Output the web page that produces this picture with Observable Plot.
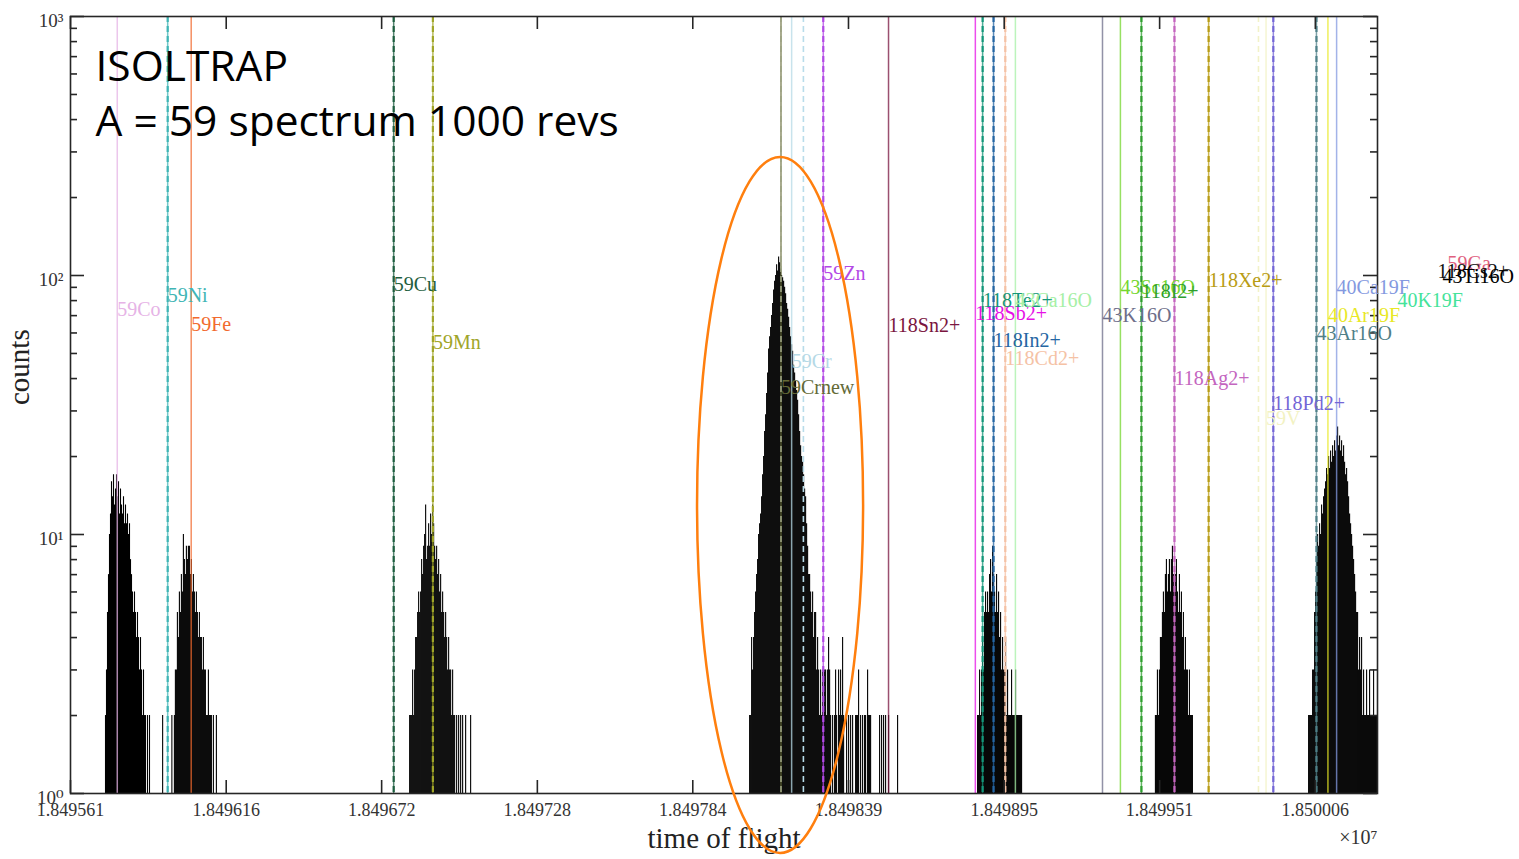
<!DOCTYPE html>
<html><head><meta charset="utf-8">
<script src="https://cdn.jsdelivr.net/npm/d3@7"></script>
<script src="https://cdn.jsdelivr.net/npm/@observablehq/plot@0.6"></script>
<style>html,body{margin:0;padding:0;background:#fff;overflow:hidden}</style>
</head><body><div id="chart"></div>
<script>
// ---------- data (time of flight in units of 1e7, counts) ----------
const xTickValues = [1.849561, 1.8496166, 1.8496721, 1.8497277, 1.8497832, 1.8498388, 1.8498944, 1.8499499, 1.8500055];
const xTickLabels = ["1.849561","1.849616","1.849672","1.849728","1.849784","1.849839","1.849895","1.849951","1.850006"];
const yTickValues = [1, 10, 100, 1000];
const yTickLabels = ["10\u2070", "10\u00b9", "10\u00b2", "10\u00b3"];
const yMinorTicks = [2,3,4,5,6,7,8,9,20,30,40,50,60,70,80,90,200,300,400,500,600,700,800,900];

const binWidth = 3.57e-7;
const peakStarts = [1.8495735, 1.8495981, 1.8496821, 1.8498035, 1.8498849, 1.8499484, 1.8500031];
const peakCounts = [
  [2,3,5,7,10,12,16,14,17,13,15,17,14,16,12,15,13,12,14,11,13,11,12,10,11,8,7,6,5,6,5,4,5,4,3,4,3,2,3,2,2,1,2,1,2],
  [2,3,3,5,4,6,5,7,6,10,8,7,9,8,9,9,7,8,6,7,6,5,6,5,4,5,4,4,3,4,3,3,2,2,3,2,2,2,1,2,1,1,2],
  [2,2,2,3,2,3,4,4,5,6,5,6,8,7,9,10,13,8,9,11,9,12,10,13,11,9,8,9,7,8,6,7,5,6,5,4,5,4,3,4,3,3,2,3,2,2,1,2,1,2,1,2,1,2,1,1,2,1,1,1,1,2],
  [2,2,4,3,4,5,6,7,8,10,11,12,14,17,20,25,29,35,42,52,58,63,70,78,88,95,100,110,104,118,112,106,100,98,95,90,85,78,74,69,63,58,54,51,45,42,39,36,33,29,25,22,20,19,17,15,14,11,9,7,7,6,5,6,4,5,5,3,4,3,2,3,2,3,2,3,3,2,3,4,3,2,1,2,1,2,3,2,1,3,2,3,2,4,2,1,1,2,1,2,1,2,1,2,1,1,2,2,2,3,1,2,1,2,1,2,2,1,3,2,2,2,1,1,1,1,1,1,1,1,2,1,2,1,2,1,2,1,1,2,1,1,1,1,1,1,1,1,2],
  [2,2,3,2,3,4,3,5,6,5,6,5,7,8,6,9,7,6,5,7,5,6,4,5,3,4,3,3,4,2,3,2,2,2,3,2,2,2,3,2,2,2,2,2,2,1],
  [2,2,3,2,3,4,4,5,6,5,7,8,6,7,8,6,8,9,7,6,7,8,6,5,7,5,6,4,5,3,4,3,3,2,3,2,2,2],
  [2,2,2,2,3,3,5,6,8,10,9,11,10,13,12,14,15,16,18,17,20,18,21,19,22,20,23,21,24,26,22,24,21,23,20,22,19,17,18,16,14,12,11,10,9,8,7,6,5,5,3,4,3,4,2,3,2,2,3,2,2,3,2,2,2,3,2,2,2]
];
const loneTimes = [1.8495939, 1.8495972];
const loneCounts = [2, 2];

const lineNames = ["59Co","59Ni","59Fe","59Cu","59Mn","59Crnew","59Cr","59Zn","118Sn2+","118Sb2+","118Te2+","118In2+","118Cd2+","43Ca16O","43K16O","43Sc16O","118I2+","118Ag2+","118Xe2+","59V","118Pd2+","43Ar16O","40Ar19F","40Ca19F","40K19F","59Ga","118Cs2+","43Ti16O"];
const lineTimes = [1.8495777,1.8495957,1.8496041,1.8496764,1.8496904,1.8498147,1.8498185,1.8498298,1.8498531,1.8498841,1.8498867,1.8498906,1.8498948,1.8498984,1.8499295,1.8499359,1.8499434,1.8499552,1.8499674,1.8499879,1.8499905,1.8500059,1.8500100,1.8500131,1.8500348,1.8500527,1.8500491,1.8500509];
const labelCounts = [73.9,83.7,64.7,92.3,55.1,36.9,46.6,101.8,64.1,71.3,80.1,56.1,47.8,80.1,70.1,89.9,86.8,40.0,95.6,28.0,32.0,59.7,70.1,89.9,80.1,111.2,103.6,99.1];
const lineColors = ["#e6b3e6","#3fb5b5","#f26a2e","#1e5e40","#a0a528","#646a36","#b5d9e6","#b348e6","#7a1540","#e612e6","#14977a","#2566a3","#f5c2a5","#a6f0a6","#6e6e8a","#74d62e","#2e9e2e","#c466bf","#b89c14","#f2f2c2","#7466d6","#4f8088","#e8e826","#8499e0","#45e39a","#e0607e","#111111","#000000"];
const lineDashed = [false,true,false,true,true,false,false,true,false,false,true,true,true,false,false,false,true,true,true,false,true,true,false,false,false,false,false,false];
const refTimes = [1.8498147, 1.8498227, 1.8499852];
const refColors = ["#e4ece6", "#b8dcea", "#f2f2c8"];

// annotation ellipse (time / count extents)
const ellipseTimes = [1.8497849, 1.8498442];
const ellipseCounts = [285.5, 0.587];

const xDomain = [1.849561, 1.8500277];
const yDomain = [1, 1000];

// ---------- build ----------
const W = 1519, H = 859, ML = 70, MR = 142, MT = 16, MB = 66;
const PW = W - ML - MR, PH = H - MT - MB;
const serif = "'Liberation Serif', 'DejaVu Serif', serif";

const bins = [];
peakStarts.forEach((s, p) => peakCounts[p].forEach((c, i) => bins.push({t: s + i * binWidth, c})));
loneTimes.forEach((t, i) => bins.push({t, c: loneCounts[i]}));
const lines = lineNames.map((name, i) => ({name, t: lineTimes[i], color: lineColors[i], dashed: lineDashed[i], lc: labelCounts[i]}));
const refs = refTimes.map((t, i) => ({t, color: refColors[i]}));
const xTicks = xTickValues.map((v, i) => ({v, label: xTickLabels[i]}));
const yTicks = yTickValues.map((v, i) => ({v, label: yTickLabels[i]}));

function ellipseMark(index, scales) {
  const x1 = scales.x(ellipseTimes[0]), x2 = scales.x(ellipseTimes[1]);
  const y1 = scales.y(ellipseCounts[0]), y2 = scales.y(ellipseCounts[1]);
  const e = document.createElementNS("http://www.w3.org/2000/svg", "ellipse");
  e.setAttribute("cx", (x1 + x2) / 2);
  e.setAttribute("cy", (y1 + y2) / 2);
  e.setAttribute("rx", Math.abs(x2 - x1) / 2);
  e.setAttribute("ry", Math.abs(y2 - y1) / 2);
  e.setAttribute("fill", "none");
  e.setAttribute("stroke", "#ff7f0e");
  e.setAttribute("stroke-width", 2.5);
  return e;
}

const axisStroke = "#262626";
const chart = Plot.plot({
  width: W, height: H,
  marginLeft: ML, marginRight: MR, marginTop: MT, marginBottom: MB,
  x: {type: "linear", domain: xDomain, axis: null},
  y: {type: "log", domain: yDomain, axis: null},
  color: {type: "identity"},
  style: {background: "white", fontFamily: serif, overflow: "visible"},
  marks: [
    Plot.ruleX(bins, {x: "t", y1: 1, y2: "c", stroke: "#000", strokeWidth: 1.1}),
    Plot.ruleX(refs, {x: "t", stroke: "color", strokeWidth: 1.6, strokeDasharray: "6,4", clip: true}),
    Plot.ruleX(lines, {x: "t", stroke: "color", strokeWidth: 1.5, strokeOpacity: 0.75, clip: true}),
    Plot.ruleX(lines.filter(d => d.dashed), {x: "t", stroke: "color", strokeWidth: 2.2, strokeDasharray: "6,4", clip: true}),
    Plot.frame({stroke: axisStroke, strokeWidth: 1.6}),
    Plot.tickX(xTicks, {x: "v", insetTop: PH - 13, stroke: axisStroke, strokeWidth: 1.6}),
    Plot.tickX(xTicks, {x: "v", insetBottom: PH - 13, stroke: axisStroke, strokeWidth: 1.6}),
    Plot.tickY(yTicks, {y: "v", insetRight: PW - 14, stroke: axisStroke, strokeWidth: 1.6}),
    Plot.tickY(yTicks, {y: "v", insetLeft: PW - 14, stroke: axisStroke, strokeWidth: 1.6}),
    Plot.tickY(yMinorTicks, {y: d => d, insetRight: PW - 7, stroke: axisStroke, strokeWidth: 1.6}),
    Plot.tickY(yMinorTicks, {y: d => d, insetLeft: PW - 7, stroke: axisStroke, strokeWidth: 1.6}),
    Plot.text(xTicks, {x: "v", text: "label", frameAnchor: "bottom", dy: 22, fontSize: 18, fill: "#333"}),
    Plot.text(yTicks, {y: "v", text: "label", frameAnchor: "left", textAnchor: "end", dx: -7, dy: 4, fontSize: 19, fill: "#333"}),
    Plot.text(["counts"], {text: d => d, frameAnchor: "left", rotate: -90, dx: -51, fontSize: 29, fill: "#222"}),
    Plot.text(["time of flight"], {text: d => d, frameAnchor: "bottom", dy: 54, fontSize: 29, fill: "#222"}),
    Plot.text(["\u00d710\u2077"], {text: d => d, frameAnchor: "bottom-right", textAnchor: "end", dy: 50, fontSize: 20, fill: "#333"}),
    Plot.text(lines, {x: "t", y: "lc", text: "name", fill: "color", textAnchor: "start", fontSize: 20}),
    Plot.text(["ISOLTRAP"], {text: d => d, frameAnchor: "top-left", textAnchor: "start", lineAnchor: "bottom", dx: 25, dy: 64, fontSize: 42.5, fontFamily: "'Open Sans', sans-serif", fill: "#000"}),
    Plot.text(["A = 59 spectrum 1000 revs"], {text: d => d, frameAnchor: "top-left", textAnchor: "start", lineAnchor: "bottom", dx: 25, dy: 119, fontSize: 42.5, fontFamily: "'Open Sans', sans-serif", fill: "#000"}),
    ellipseMark
  ]
});
document.getElementById("chart").appendChild(chart);
</script></body></html>
